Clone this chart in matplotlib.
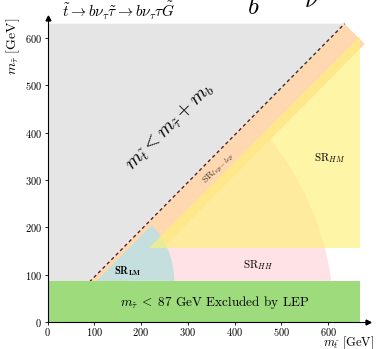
import matplotlib
matplotlib.use("Agg")
import matplotlib.pyplot as plt
from matplotlib.patches import Polygon, Wedge, Rectangle

plt.rcParams["font.family"] = "serif"
plt.rcParams["font.serif"] = ["cmr10"]
plt.rcParams["mathtext.fontset"] = "cm"
plt.rcParams["axes.formatter.use_mathtext"] = True

# Mass-plane boundaries (GeV)
m_b = 5.0                 # kinematic edge offset: m_stop = m_stau + m_b
lep_limit = 87.0          # LEP stau exclusion
x_max, y_max = 685, 642   # axis ranges
region_xmax = 667         # right end of the shaded regions
grey_top = 630
# SR_lep-lep band in Delta m = m_stop - m_stau, and its far end in m_stop + m_stau
leplep_dm = [m_b, 91.0]
leplep_sum_max = 1265.0
# SR_HM: Delta m >= hm_dm, m_stau >= hm_ymin
hm_dm, hm_ymin = 62.0, 156.0
# SR_HH and SR_LM wedges: centre, radius
hh_center, hh_radius = (0.0, 0.0), 613.0
lm_center, lm_radius = (105.0, lep_limit), 166.0

x_ticks = [0, 100, 200, 300, 400, 500, 600]
y_ticks = [0, 100, 200, 300, 400, 500, 600]

fig = plt.figure(figsize=(3.78, 3.49), dpi=100)
ax = fig.add_axes([47.5 / 378, 27 / 349, (368 - 47.5) / 378, (322 - 18) / 349])
ax.set_xlim(0, x_max)
ax.set_ylim(0, y_max)

# Forbidden region above the kinematic line
ax.add_patch(Polygon([(0, 0), (0, grey_top), (grey_top + m_b, grey_top), (m_b, 0)],
                     closed=True, fc="#e5e5e5", ec="none", zorder=1))

# SR_HH
ax.add_patch(Wedge(hh_center, hh_radius, 0, 45, fc="#ffe2e5", ec="none", zorder=2))

# SR_lep-lep band along the diagonal
d0, d1 = leplep_dm
s = leplep_sum_max
band = [(d0, 0), ((s + d0) / 2, (s - d0) / 2), ((s + d1) / 2, (s - d1) / 2), (d1, 0)]
ax.add_patch(Polygon(band, closed=True, fc="#ffd8b1", ec="none", zorder=3))

# SR_LM
ax.add_patch(Wedge(lm_center, lm_radius, 0, 45, fc="#c5dfde", ec="none", zorder=4))

# SR_HM
hm = [(hm_ymin + hm_dm, hm_ymin), (region_xmax, hm_ymin), (region_xmax, region_xmax - hm_dm)]
ax.add_patch(Polygon(hm, closed=True, fc=(1.0, 0.945, 0.47), alpha=0.65, ec="none",
                     zorder=5))

# Kinematic line
ax.plot([m_b, grey_top + m_b], [0, grey_top], ls=(0, (2.5, 2.0)), color="#333333",
        lw=1.0, zorder=6)

# LEP exclusion
ax.add_patch(Rectangle((0, 0), region_xmax, lep_limit, fc="#9ddb7c", ec="none", zorder=7))

ax.text(358, 42, r"$m_{\tilde{\tau}}\;<\;87$ GeV Excluded by LEP", fontsize=9.5,
        ha="center", va="center", zorder=8)
ax.text(262, 412, r"$m_{\tilde{t}} < m_{\tilde{\tau}} + m_b$", fontsize=14,
        rotation=45, ha="center", va="center", zorder=8)
ax.text(365, 325, r"SR$_{lep-lep}$", fontsize=7, rotation=45,
        ha="center", va="center", zorder=8, color="#333333")
ax.text(604, 346, r"SR$_{HM}$", fontsize=8, ha="center", va="center", zorder=8)
ax.text(450, 120, r"SR$_{HH}$", fontsize=8, ha="center", va="center", zorder=8)
ax.text(172, 108, r"$\mathbf{SR}_{\mathbf{LM}}$", fontsize=7.5, ha="center",
        va="center", zorder=8)

# Axes with arrow heads
for side in ("top", "right"):
    ax.spines[side].set_visible(False)
for side in ("left", "bottom"):
    ax.spines[side].set_linewidth(0.8)
    ax.spines[side].set_zorder(9)
ax.plot(1, 0, ">k", ms=3.5, transform=ax.transAxes, clip_on=False, zorder=10)
ax.plot(0, 1, "^k", ms=3.5, transform=ax.transAxes, clip_on=False, zorder=10)

ax.set_xticks(x_ticks)
ax.set_yticks(y_ticks)
ax.tick_params(labelsize=7.5, length=2.5, width=0.6, pad=1.5)
ax.tick_params(axis="x", pad=0.5)

ax.set_xlabel(r"$m_{\tilde{t}}$ [GeV]", fontsize=9, ha="right", va="top")
ax.xaxis.set_label_coords(1.019, -0.042)
ax.set_ylabel(r"$m_{\tilde{\tau}}$ [GeV]", fontsize=10, loc="top", labelpad=2)

fig.text(62 / 378, 1 - 17 / 349,
         r"$\tilde{t} \rightarrow b\nu_\tau\tilde{\tau} \rightarrow b\nu_\tau\tau\tilde{G}$",
         fontsize=11, ha="left", va="baseline")
fig.text(247 / 378, 1 - 14 / 349, r"$b$", fontsize=18, ha="left", va="baseline")
fig.text(304 / 378, 1 - 7 / 349, r"$\nu$", fontsize=18, ha="left", va="baseline")

fig.savefig("out.png", dpi=100)
